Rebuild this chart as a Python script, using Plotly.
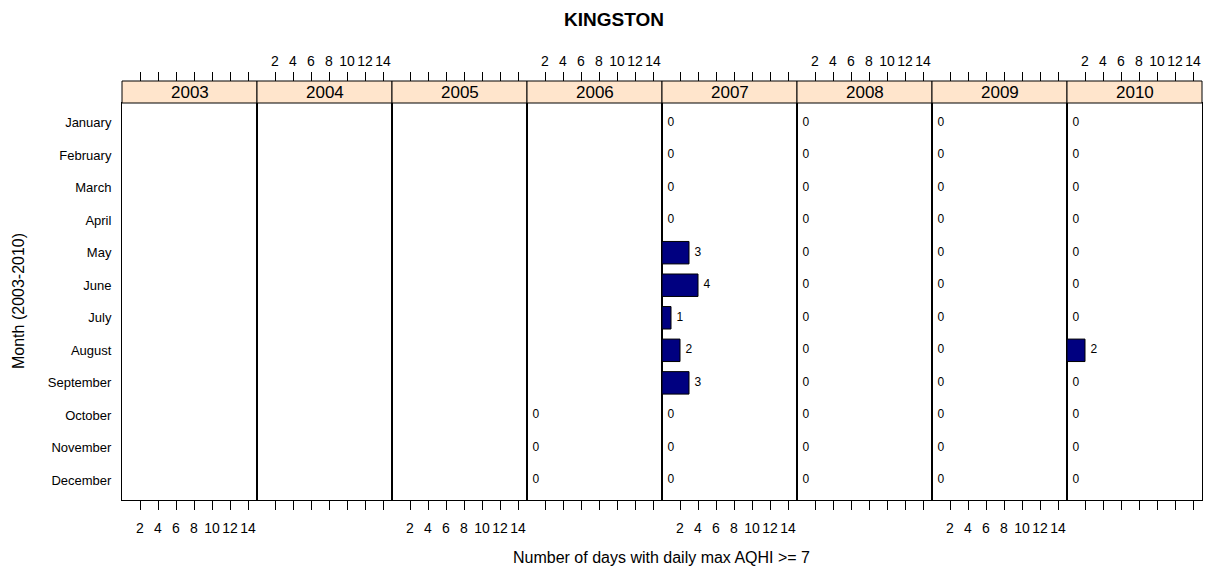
import plotly.graph_objects as go

years = ["2003", "2004", "2005", "2006", "2007", "2008", "2009", "2010"]
months = ["January", "February", "March", "April", "May", "June", "July",
          "August", "September", "October", "November", "December"]
N = None
values = {
    "2003": [N] * 12,
    "2004": [N] * 12,
    "2005": [N] * 12,
    "2006": [N, N, N, N, N, N, N, N, N, 0, 0, 0],
    "2007": [0, 0, 0, 0, 3, 4, 1, 2, 3, 0, 0, 0],
    "2008": [0, 0, 0, 0, 0, 0, 0, 0, 0, 0, 0, 0],
    "2009": [0, 0, 0, 0, 0, 0, 0, 0, 0, 0, 0, 0],
    "2010": [0, 0, 0, 0, 0, 0, 0, 2, 0, 0, 0, 0],
}
tick_vals = [2, 4, 6, 8, 10, 12, 14]
x_range = [0, 15]

FONT = "Liberation Sans, Arial, sans-serif"
# target screen geometry (body margin removed via post_script)
S_LEFT, S_RIGHT, S_TOP, S_BOT = 122, 1202, 81, 500
W, H = 1205, 572
ML = S_LEFT
MR = W - S_RIGHT
MT = S_TOP
MB = H - S_BOT
plot_h = H - MT - MB
plot_w = W - ML - MR
strip_h = 22
ytop = (plot_h - strip_h) / plot_h


def px_to_paper_x(sx):
    return (sx - S_LEFT) / plot_w


def px_to_paper_y(sy):
    return (S_BOT - sy) / plot_h


fig = go.Figure()
n = len(years)
pw = 1.0 / n
layout = {}
shapes = []
annotations = []
for i, yr in enumerate(years):
    k = i + 1
    xs = "" if k == 1 else str(k)
    xa, ya = "x" + xs, "y" + xs
    vals = values[yr]
    bx = [v for v in vals if v is not None]
    by = [m for m, v in zip(months, vals) if v is not None]
    fig.add_trace(go.Bar(x=bx, y=by, orientation="h", xaxis=xa, yaxis=ya,
                         marker=dict(color="#000080", line=dict(color="black", width=1)),
                         width=0.69, showlegend=False, hoverinfo="x+y"))
    fig.add_trace(go.Scatter(x=[v + 0.6 for v in bx], y=by, mode="text",
                             text=[str(v) for v in bx], textposition="middle right",
                             textfont=dict(size=12, color="#000000", family=FONT),
                             xaxis=xa, yaxis=ya, showlegend=False, hoverinfo="skip"))
    tk = n + k
    fig.add_trace(go.Scatter(x=[None], y=[None], xaxis="x" + str(tk), yaxis=ya,
                             showlegend=False, hoverinfo="skip"))
    bottom_labels = (i % 2 == 0)
    layout["xaxis" + xs] = dict(
        domain=[i * pw, (i + 1) * pw], anchor=ya, range=x_range,
        tickmode="array", tickvals=tick_vals, ticks="outside", ticklen=9,
        tickcolor="black", tickwidth=1, showticklabels=bottom_labels, tickangle=0,
        ticklabelstandoff=6,
        tickfont=dict(size=14, color="black", family=FONT),
        showline=True, linecolor="black", linewidth=1, mirror=True,
        showgrid=False, zeroline=False, fixedrange=True,
    )
    layout["xaxis" + str(tk)] = dict(
        overlaying=xa, anchor="free", position=1, side="top", range=x_range,
        tickmode="array", tickvals=tick_vals, ticks="outside", ticklen=9,
        tickcolor="black", tickwidth=1, showticklabels=not bottom_labels, tickangle=0,
        tickfont=dict(size=14, color="black", family=FONT),
        showline=False, showgrid=False, zeroline=False, fixedrange=True,
    )
    layout["yaxis" + xs] = dict(
        domain=[0, ytop], anchor=xa, type="category", categoryarray=months,
        categoryorder="array", range=[11.6, -0.6],
        showticklabels=(k == 1), ticks="", ticklabelstandoff=7,
        tickfont=dict(size=13, color="black", family=FONT),
        showline=True, linecolor="black", linewidth=1, mirror=True,
        showgrid=False, zeroline=False, fixedrange=True,
    )
    shapes.append(dict(type="rect", xref="paper", yref="paper",
                       x0=i * pw, x1=(i + 1) * pw, y0=ytop, y1=1,
                       fillcolor="#FFE5CC", line=dict(color="black", width=1), layer="above"))
    annotations.append(dict(text=yr, xref="paper", yref="paper",
                            x=(i + 0.5) * pw, y=(ytop + 1) / 2, showarrow=False,
                            xanchor="center", yanchor="middle",
                            font=dict(size=17, color="black", family=FONT)))

annotations.append(dict(text="<b>KINGSTON</b>", xref="paper", yref="paper",
                        x=px_to_paper_x(614), y=px_to_paper_y(20),
                        showarrow=False, xanchor="center", yanchor="middle",
                        font=dict(size=19, color="black", family=FONT)))
annotations.append(dict(text="Number of days with daily max AQHI >= 7", xref="paper", yref="paper",
                        x=px_to_paper_x(661), y=px_to_paper_y(557), showarrow=False,
                        xanchor="center", yanchor="middle",
                        font=dict(size=16, color="black", family=FONT)))
annotations.append(dict(text="Month (2003-2010)", xref="paper", yref="paper",
                        x=px_to_paper_x(18), y=px_to_paper_y(301), showarrow=False,
                        textangle=-90, xanchor="center", yanchor="middle",
                        font=dict(size=16, color="black", family=FONT)))

fig.update_layout(**layout)
fig.update_layout(
    width=W, height=H, margin=dict(l=ML, r=MR, t=MT, b=MB),
    paper_bgcolor="white", plot_bgcolor="white",
    shapes=shapes, annotations=annotations,
    font=dict(family=FONT, color="black"),
)
fig.write_html("out.html", config={"displayModeBar": False},
               post_script="document.body.style.margin='0';document.body.style.overflow='hidden';")
